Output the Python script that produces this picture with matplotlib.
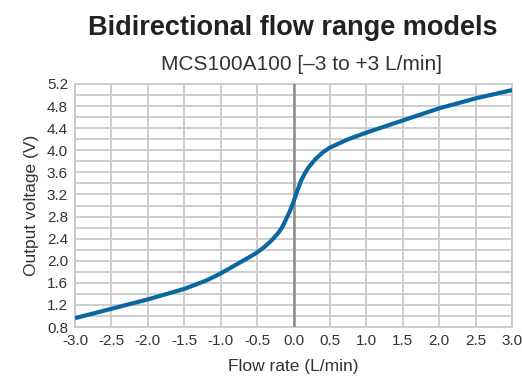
import numpy as np
import matplotlib
matplotlib.use("Agg")
import matplotlib.pyplot as plt
from matplotlib.ticker import MultipleLocator, FormatStrFormatter

# Flow rate (L/min) vs output voltage (V)
flow = [-3.0, -2.5, -2.0, -1.5, -1.2, -1.0, -0.8, -0.6, -0.5, -0.4, -0.3,
        -0.2, -0.15, -0.1, -0.05, 0.0, 0.05, 0.1, 0.15, 0.2, 0.3, 0.4,
        0.5, 0.75, 1.0, 1.5, 2.0, 2.5, 3.0]
voltage = [0.96, 1.13, 1.30, 1.49, 1.64, 1.77, 1.92, 2.07, 2.15, 2.25, 2.37,
           2.52, 2.62, 2.76, 2.90, 3.07, 3.26, 3.44, 3.57, 3.68, 3.84, 3.96,
           4.05, 4.20, 4.32, 4.54, 4.76, 4.94, 5.09]

title = "Bidirectional flow range models"
subtitle = "MCS100A100 [\u20133 to +3 L/min]"

plt.rcParams['font.family'] = ['Liberation Sans', 'DejaVu Sans']

fig = plt.figure(figsize=(5.22, 3.77), dpi=100)
ax = fig.add_axes([0.1437, 0.1326, 0.8373, 0.6446])

grid_c = "#c9c9c9"
ax.plot(flow, voltage, color="#0b67a0", lw=3.0, solid_capstyle="butt", zorder=4)
ax.axvline(0, color="#8c8c8c", lw=1.8, zorder=3)

ax.set_xlim(-3.0, 3.0)
ax.set_ylim(0.8, 5.2)
ax.xaxis.set_major_locator(MultipleLocator(0.5))
ax.yaxis.set_major_locator(MultipleLocator(0.4))
ax.yaxis.set_minor_locator(MultipleLocator(0.2))
ax.xaxis.set_major_formatter(FormatStrFormatter("%.1f"))
ax.yaxis.set_major_formatter(FormatStrFormatter("%.1f"))
ax.grid(True, which="both", color=grid_c, lw=1.3, zorder=1)
ax.tick_params(which="both", length=0, labelsize=11, colors="#333333", pad=5)
for s in ax.spines.values():
    s.set_color(grid_c)
    s.set_linewidth(1.3)

ax.set_xlabel("Flow rate (L/min)", fontsize=12.5, color="#333333", labelpad=8)
ax.set_ylabel("Output voltage (V)", fontsize=12.5, color="#333333", labelpad=6)

fig.text(0.56, 0.927, title, ha="center", va="center", fontsize=19.5,
         fontweight="bold", color="#222222")
fig.text(0.577, 0.829, subtitle, ha="center", va="center", fontsize=15,
         color="#333333")

fig.savefig("out.png", dpi=100)
